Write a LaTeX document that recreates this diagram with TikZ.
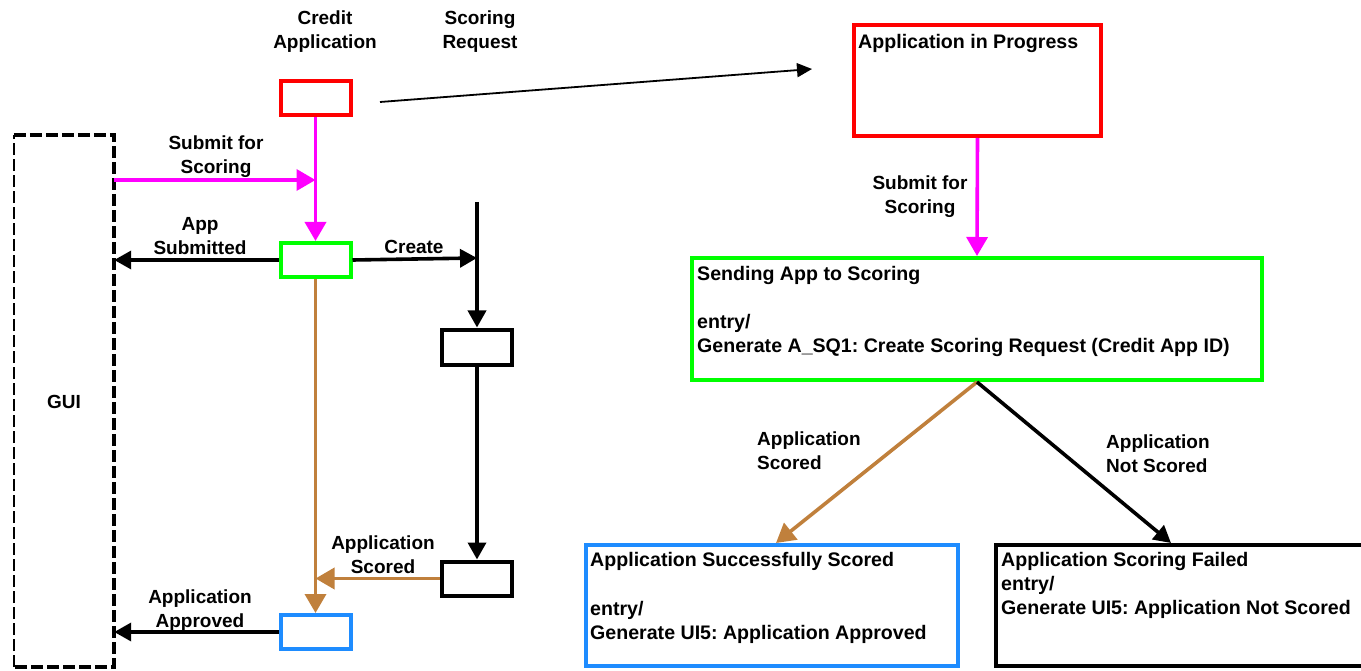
\documentclass[tikz,border=0pt]{standalone}
\usepackage{fontspec}
\setmainfont{Liberation Sans}
\usetikzlibrary{arrows.meta,calc}

\definecolor{cred}{HTML}{FF0000}
\definecolor{cgreen}{HTML}{00FF00}
\definecolor{cmag}{HTML}{FF00FF}
\definecolor{cbrown}{HTML}{C0803C}
\definecolor{cblue}{HTML}{1E8CFF}

\begin{document}
\frenchspacing
\begin{tikzpicture}[x=1pt,y=-1pt,
  txt/.style={font=\bfseries\fontsize{19}{24}\selectfont, inner sep=0pt},
  btxt/.style={font=\bfseries\fontsize{19.6}{24}\selectfont, inner sep=0pt, align=left, anchor=north west},
  clbl/.style={txt, align=center, anchor=north},
  llbl/.style={txt, align=left, anchor=north west},
  smallbox/.style={draw, line width=4pt, minimum width=70pt, minimum height=34pt, inner sep=0pt},
  bigbox/.style={draw, line width=4pt, inner sep=0pt},
  bigtip/.style={-{Triangle[length=19pt,width=21pt]}},
  blktip/.style={-{Triangle[length=17pt,width=18pt]}},
  magflow/.style={cmag, line width=3.6pt, bigtip},
  brnflow/.style={cbrown, line width=3.6pt, bigtip},
  blkflow/.style={black, line width=3.6pt, blktip},
  thinflow/.style={black, line width=1.8pt, -{Triangle[length=15pt,width=14pt]}},
  guiedge/.style={black, line width=4pt, dash pattern=on 12pt off 4pt},
  guithin/.style={black, line width=2pt, dash pattern=on 12pt off 4pt}
]
\clip (0,0) rectangle (1361,671);

% --- left: GUI lane ---
\node[minimum width=100pt, minimum height=532pt, inner sep=0pt] (gui) at (64,401) {};
\draw[guiedge] (gui.north west) -- (gui.north east) -- (gui.south east) -- (gui.south west);
\draw[guithin] (gui.south west) -- (gui.north west);
\node[txt] (guilbl) at (64,402) {GUI};

% --- left: object lanes ---
\node[smallbox, cred] (ca) at (315.5,98.5) {};
\node[smallbox, cgreen] (as) at (315.5,260) {};
\node[smallbox, cblue] (bs) at (315.5,632) {};
\node[smallbox, black, minimum width=70pt, minimum height=35pt] (k1) at (477,347) {};
\node[smallbox, black] (k2) at (477,578.5) {};

\node[clbl] (tca) at (325,11) {Credit\\Application};
\node[clbl] (tsr) at (480,11) {Scoring\\Request};

\coordinate (j1) at (315.5,180);
\coordinate (lltop) at (477,202);
\coordinate (llj) at (477,258);
\coordinate (bj) at (315.5,578.5);
\coordinate (sr1) at (380,102);
\coordinate (sr2) at (812,69);

\draw[magflow] (ca.south) -- (as.north);
\draw[magflow] (gui.east |- j1) -- (j1);
\draw[blkflow] (as.west) -- (as.west -| gui.east);
\draw[blkflow] (as.east) -- (llj);
\draw[blkflow] (lltop) -- (k1.north);
\draw[blkflow] (k1.south) -- (k2.north);
\draw[brnflow] (as.south) -- (bs.north);
\draw[brnflow] (k2.west) -- (bj);
\draw[blkflow] (bs.west) -- (bs.west -| gui.east);
\draw[thinflow] (sr1) -- (sr2);

\node[clbl] (tsub) at (216,136) {Submit for\\Scoring};
\node[clbl] (tapp) at (200,217) {App\\Submitted};
\node[clbl] (tcre) at (414,240) {Create};
\node[clbl] (tscl) at (383,536) {Application\\Scored};
\node[clbl] (tapr) at (200,590) {Application\\Approved};

% --- right: state machine ---
\node[bigbox, cred, minimum width=247pt, minimum height=111pt] (aip) at (977.5,80.5) {};
\node[bigbox, cgreen, minimum width=570pt, minimum height=122pt] (sas) at (977,319) {};
\node[bigbox, cblue, minimum width=372pt, minimum height=121pt] (ass) at (772,605.5) {};
\node[bigbox, black, minimum width=377pt, minimum height=121pt] (asf) at (1184.5,605.5) {};

\node[btxt] (taip) at (858,34) {Application in Progress};
\node[btxt] (tsas) at (697,266) {Sending App to Scoring\\[24pt]entry/\\Generate A\_SQ1: Create Scoring Request (Credit App ID)};
\node[btxt] (tass) at (590,552) {Application Successfully Scored\\[25pt]entry/\\Generate UI5: Application Approved};
\node[btxt] (tasf) at (1001,552) {Application Scoring Failed\\entry/\\Generate UI5: Application Not Scored};

\coordinate (e1) at ($(ass.north)+(4,0)$);
\coordinate (e2) at ($(asf.north west)+(177,0)$);

\draw[magflow] (aip.south) -- (sas.north);
\draw[brnflow] (sas.south) -- (e1);
\draw[blkflow] (sas.south) -- (e2);

\node[clbl] (tsub2) at (920,176) {Submit for\\Scoring};
\node[llbl] (tscr) at (757,432) {Application\\Scored};
\node[llbl] (tnsc) at (1106,435) {Application\\Not Scored};
\end{tikzpicture}
\end{document}
